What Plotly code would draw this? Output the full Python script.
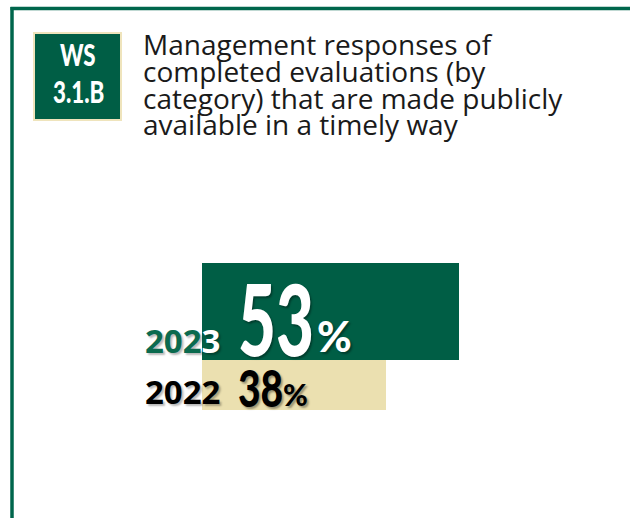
import plotly.graph_objects as go

# ---- data ----
years = ["2022", "2023"]
values = [38, 53]
title_lines = [
    "Management responses of",
    "completed evaluations (by",
    "category) that are made publicly",
    "available in a timely way",
]
badge_lines = ["WS", "3.1.B"]

# ---- styles ----
GREEN = "#005E45"
BEIGE = "#EBE0B0"
bar_colors = [BEIGE, GREEN]
bar_thickness = [50, 97]          # bar heights in y-axis units
year_colors = ["#000000", "#0B6A4E"]
num_colors = ["#000000", "#FFFFFF"]

W, H = 630, 518
def px(x):
    return x / W
def py(y):
    return 1 - y / H

# bar centers stacked one on top of the other
centers = []
acc = 0
for t in bar_thickness:
    centers.append(acc + t / 2)
    acc += t

fig = go.Figure()
fig.add_trace(go.Bar(
    x=values, y=centers, width=bar_thickness, orientation="h",
    marker=dict(color=bar_colors, line=dict(width=0)),
    hoverinfo="skip", showlegend=False,
))

shapes = [
    # frame
    dict(type="line", xref="paper", yref="paper", x0=px(10.5), x1=px(632), y0=py(8.5), y1=py(8.5),
         line=dict(color="#00664C", width=3.5)),
    dict(type="line", xref="paper", yref="paper", x0=px(12), x1=px(12), y0=py(7), y1=py(520),
         line=dict(color="#00664C", width=3.5)),
    # badge
    dict(type="rect", xref="paper", yref="paper", x0=px(34), x1=px(121), y0=py(33), y1=py(120),
         fillcolor=GREEN, line=dict(color="#EFE4BC", width=2)),
]

annotations = []
# title lines
for i, line in enumerate(title_lines):
    base = 54.7 + i * 26.7
    annotations.append(dict(
        xref="paper", yref="paper", x=px(141), y=py(base - 10.5), xanchor="left", yanchor="middle",
        text=line, showarrow=False,
        font=dict(family="Open Sans", size=28, color="#1a1a1a"),
    ))

scaled = []  # (annotation index, scaleX, origin)
# badge text
for i, (line, yc) in enumerate(zip(badge_lines, [54, 91])):
    scaled.append((len(annotations), 0.72, "center"))
    annotations.append(dict(
        xref="paper", yref="paper", x=px(78), y=py(yc), xanchor="center", yanchor="middle",
        text=line, showarrow=False,
        font=dict(family="Lato", size=31, weight=900, color="white"),
    ))

# year labels
year_shift = [-6, -29]
for i, yr in enumerate(years):
    if i == 1:
        txt = (f"<span style='color:{year_colors[i]}'>{yr[:3]}</span>"
               f"<span style='color:#FFFFFF'>{yr[3:]}</span>")
    else:
        txt = yr
    annotations.append(dict(
        xref="x", yref="y", x=0, y=centers[i], xanchor="right", yanchor="middle",
        xshift=20, yshift=year_shift[i],
        text=txt, showarrow=False,
        font=dict(family="Open Sans", size=33, weight=700, color=year_colors[i],
                  shadow="2px 2px 2px rgba(0,0,0,0.28)"),
    ))

# value labels
num_size = [52, 100]
num_scale = [0.75, 0.655]
num_shift = [-2, -5]
pct_size = [30, 42]
pct_x = [79, 113]
pct_shift = [-9, -24]
for i, v in enumerate(values):
    scaled.append((len(annotations), num_scale[i], "left"))
    annotations.append(dict(
        xref="x", yref="y", x=0, y=centers[i], xanchor="left", yanchor="middle",
        xshift=34, yshift=num_shift[i],
        text=f"{v}", showarrow=False,
        font=dict(family="Lato", size=num_size[i], weight=900, color=num_colors[i],
                  shadow="2px 2px 2px rgba(0,0,0,0.35)"),
    ))
    annotations.append(dict(
        xref="x", yref="y", x=0, y=centers[i], xanchor="left", yanchor="middle",
        xshift=pct_x[i], yshift=pct_shift[i],
        text="%", showarrow=False,
        font=dict(family="Lato", size=pct_size[i], weight=900, color=num_colors[i],
                  shadow="2px 2px 2px rgba(0,0,0,0.35)"),
    ))

fig.update_layout(
    width=W, height=H, margin=dict(l=0, r=0, t=0, b=0),
    paper_bgcolor="white", plot_bgcolor="white",
    xaxis=dict(domain=[px(202), 1], range=[0, (W - 202) / 4.85], visible=False, fixedrange=True),
    yaxis=dict(domain=[py(410), py(263)], range=[0, sum(bar_thickness)], visible=False, fixedrange=True),
    shapes=shapes, annotations=annotations, bargap=0,
)

js_items = ",".join(f"[{i},{s},'{o}']" for i, s, o in scaled)
post = """
document.body.style.margin = '0';
document.body.style.padding = '0';
var items = [ITEMS];
function condense(){
  var gd = document.getElementById('{plot_id}');
  items.forEach(function(it){
    var g = gd.querySelector('.annotation[data-index="' + it[0] + '"] text.annotation-text');
    if (!g) return;
    g.style.transformBox = 'fill-box';
    g.style.transformOrigin = it[2] === 'left' ? '0% 50%' : '50% 50%';
    g.style.transform = 'scaleX(' + it[1] + ')';
  });
}
condense(); setTimeout(condense, 200); setTimeout(condense, 800);
""".replace("ITEMS", js_items)

fig.write_html("out.html", post_script=post, config={"displayModeBar": False})
